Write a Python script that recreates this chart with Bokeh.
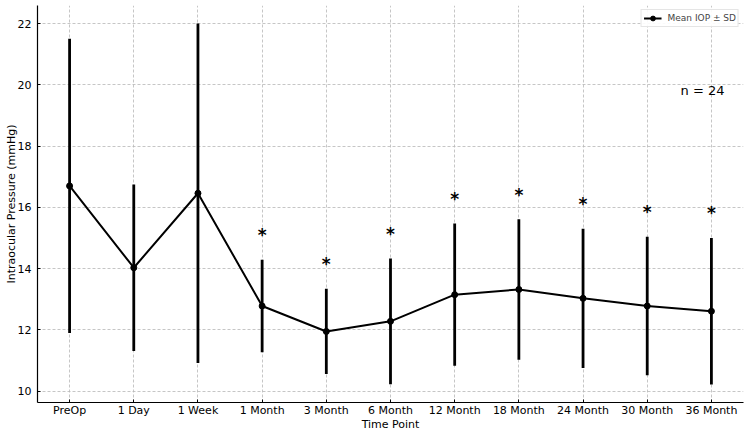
import numpy as np
from bokeh.plotting import figure
from bokeh.models import (ColumnDataSource, FixedTicker, Range1d, Legend,
                          LegendItem, Label)
from bokeh.core.properties import value
from bokeh.embed import file_html
from bokeh.resources import INLINE

# Mean intraocular pressure and standard deviation at each follow-up visit
time_points = ["PreOp", "1 Day", "1 Week", "1 Month", "3 Month", "6 Month",
               "12 Month", "18 Month", "24 Month", "30 Month", "36 Month"]
mean_iop = [16.70, 14.03, 16.46, 12.78, 11.95, 12.28, 13.15, 13.32, 13.03, 12.78, 12.61]
sd_iop = [4.80, 2.72, 5.54, 1.51, 1.39, 2.05, 2.32, 2.29, 2.27, 2.26, 2.39]
# visits significantly different from the pre-operative value
significant = [False, False, False, True, True, True, True, True, True, True, True]
n_patients = 24

FONT = "DejaVu Sans"

x = np.arange(len(time_points))
mean = np.array(mean_iop)
sd = np.array(sd_iop)
lower = mean - sd
upper = mean + sd

src = ColumnDataSource(dict(x=x, mean=mean, lower=lower, upper=upper))

lo, hi = lower.min(), upper.max()
pad = (hi - lo) * 0.05

p = figure(width=750, height=435, output_backend="svg", toolbar_location=None,
           x_range=Range1d(-0.5, len(time_points) - 0.5),
           y_range=Range1d(lo - pad, hi + pad),
           min_border_left=37, min_border_right=7, min_border_top=5,
           min_border_bottom=33)
p.outline_line_color = None
p.background_fill_color = "white"
p.border_fill_color = "white"

# error bars
err = p.segment(x0="x", y0="lower", x1="x", y1="upper", source=src,
                line_color="black", line_width=2.8)
# mean line with markers
ln = p.line("x", "mean", source=src, line_color="black", line_width=2)
pts = p.scatter("x", "mean", source=src, size=6, fill_color="black",
                line_color="black")

# significance markers above the error bars
sig_x = [xi for xi, s in zip(x, significant) if s]
sig_y = [u + 0.8 for u, s in zip(upper, significant) if s]
p.text(x=sig_x, y=sig_y, text=["*"] * len(sig_x), text_align="center",
       text_baseline="alphabetic", text_font=value(FONT),
       text_font_size="17px", text_font_style="bold", text_color="#000000")

p.add_layout(Label(x=9.52, y=19.8, text=f"n = {n_patients}",
                   text_font=FONT, text_font_size="13px",
                   text_baseline="middle", text_align="left",
                   text_color="black"))

# axes
p.xaxis.ticker = FixedTicker(ticks=list(x))
p.xaxis.major_label_overrides = {int(i): t for i, t in zip(x, time_points)}
p.yaxis.ticker = FixedTicker(ticks=[10, 12, 14, 16, 18, 20, 22])
for ax in (p.xaxis, p.yaxis):
    ax.axis_line_color = "black"
    ax.axis_line_width = 1.2
    ax.major_tick_in = 3
    ax.major_tick_out = 0
    ax.minor_tick_line_color = None
    ax.major_tick_line_color = "black"
    ax.major_label_text_font = FONT
    ax.major_label_text_font_size = "11px"
    ax.major_label_text_color = "black"
    ax.axis_label_text_font = FONT
    ax.axis_label_text_font_size = "11px"
    ax.axis_label_text_font_style = "normal"
    ax.axis_label_text_color = "black"
p.xaxis.axis_label = "Time Point"
p.yaxis.axis_label = "Intraocular Pressure (mmHg)"
p.xaxis.major_label_standoff = 1
p.xaxis.axis_label_standoff = -2
p.yaxis.major_label_standoff = 6
p.yaxis.axis_label_standoff = -3

for g in (p.xgrid, p.ygrid):
    g.grid_line_color = "#b8b8b8"
    g.grid_line_dash = "3 2"
    g.grid_line_width = 0.8

legend = Legend(items=[LegendItem(label="Mean IOP ± SD", renderers=[ln, pts])],
                location="top_right")
legend.margin = 4
legend.padding = 2
legend.spacing = 0
legend.glyph_width = 18
legend.glyph_height = 12
legend.label_height = 12
legend.label_standoff = 6
legend.label_text_font = FONT
legend.label_text_font_size = "9px"
legend.border_line_color = "#cccccc"
legend.border_line_width = 1
legend.background_fill_alpha = 0.9
p.add_layout(legend)

open("out.html", "w").write(file_html(p, INLINE))
